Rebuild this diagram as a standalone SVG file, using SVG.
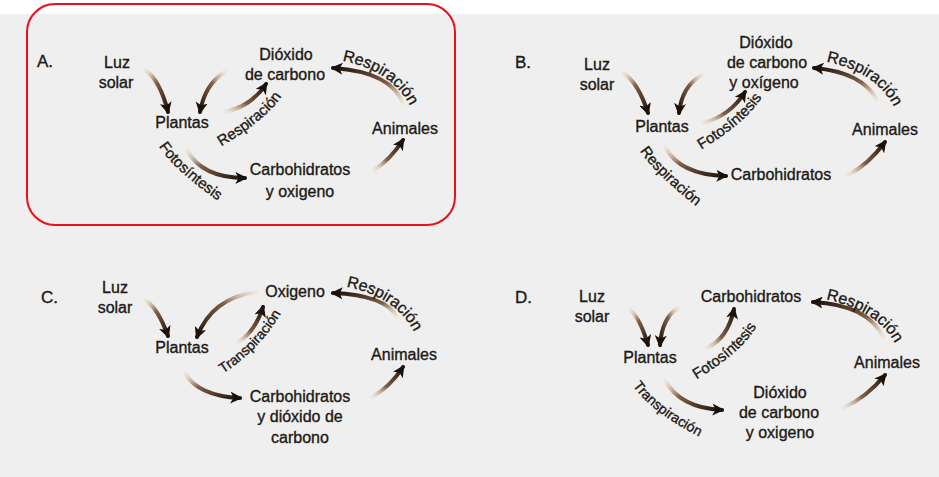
<svg xmlns="http://www.w3.org/2000/svg" width="939" height="477" viewBox="0 0 939 477">
<defs>
<style>
text{font-family:"Liberation Sans",Arial,sans-serif;font-size:16px;fill:#1d1915;stroke:#1d1915;stroke-width:0.35}
.n text{text-anchor:middle}
.tag{font-size:17px}
.el{font-size:15px}
.el14{font-size:14px}
.el16{font-size:16px}
.c{fill:none;stroke-width:4;stroke-linecap:round;marker-end:url(#ah)}
.dr{stroke:url(#gDR)}
.dl{stroke:url(#gDL)}
.ur{stroke:url(#gUR)}
.ul{stroke:url(#gUL)}
</style>
<linearGradient id="gDR" x1="0" y1="0" x2="1" y2="1"><stop offset="0" stop-color="#e8c99a" stop-opacity=".2"/><stop offset=".4" stop-color="#6e4428" stop-opacity=".85"/><stop offset="1" stop-color="#1a110a"/></linearGradient>
<linearGradient id="gDL" x1="1" y1="0" x2="0" y2="1"><stop offset="0" stop-color="#e8c99a" stop-opacity=".2"/><stop offset=".4" stop-color="#6e4428" stop-opacity=".85"/><stop offset="1" stop-color="#1a110a"/></linearGradient>
<linearGradient id="gUR" x1="0" y1="1" x2="1" y2="0"><stop offset="0" stop-color="#e8c99a" stop-opacity=".2"/><stop offset=".4" stop-color="#6e4428" stop-opacity=".85"/><stop offset="1" stop-color="#1a110a"/></linearGradient>
<linearGradient id="gUL" x1="1" y1="1" x2="0" y2="0"><stop offset="0" stop-color="#e8c99a" stop-opacity=".2"/><stop offset=".4" stop-color="#6e4428" stop-opacity=".85"/><stop offset="1" stop-color="#1a110a"/></linearGradient>
<marker id="ah" viewBox="0 0 10 10" refX="8" refY="5" markerWidth="12" markerHeight="12" markerUnits="userSpaceOnUse" orient="auto"><path d="M0,0 L10,5 L0,10 L2.5,5z" fill="#1a110a"/></marker>
<path id="pA1" d="M340,60 Q394,71 411,108"/>
<path id="pA2" d="M219,148 Q269,118 283,94"/>
<path id="pA3" d="M157,143 Q170,167 221,203"/>
<path id="pB1" d="M824,61 Q878,72 895,109"/>
<path id="pB2" d="M699,151 Q749,121 763,95"/>
<path id="pB3" d="M637,146 Q650,170 701,210"/>
<path id="pC1" d="M344,286 Q398,297 415,334"/>
<path id="pC2" d="M216,378 Q262,350 285,306"/>
<path id="pD1" d="M824,299 Q878,310 896,345"/>
<path id="pD2" d="M694,381 Q744,351 758,324"/>
<path id="pD3" d="M629,379 Q645,410 706,440"/>
</defs>

<rect x="0" y="0" width="939" height="477" fill="#ffffff"/>
<rect x="0" y="14" width="939" height="463" fill="#efefef"/>
<rect x="27" y="4" width="428" height="221" rx="28" ry="28" fill="none" stroke="#e5121b" stroke-width="2"/>

<g id="panel-tags">
<text class="tag" x="37" y="67">A.</text>
<text class="tag" x="515" y="68">B.</text>
<text class="tag" x="41" y="303">C.</text>
<text class="tag" x="515" y="303">D.</text>
</g>

<g id="A-luz" class="n"><text x="117" y="68">Luz</text><text x="116" y="88">solar</text></g>
<g id="A-plantas" class="n"><text x="182" y="128">Plantas</text></g>
<g id="A-dioxido" class="n"><text x="286" y="60">Dióxido</text><text x="285" y="80">de carbono</text></g>
<g id="A-animales" class="n"><text x="405" y="134">Animales</text></g>
<g id="A-carbo" class="n"><text x="300" y="175">Carbohidratos</text><text x="300" y="197">y oxigeno</text></g>

<g id="B-luz" class="n"><text x="597" y="70">Luz</text><text x="597" y="90">solar</text></g>
<g id="B-plantas" class="n"><text x="662" y="132">Plantas</text></g>
<g id="B-dioxido" class="n"><text x="766" y="48">Dióxido</text><text x="767" y="68">de carbono</text><text x="764" y="88">y oxígeno</text></g>
<g id="B-animales" class="n"><text x="885" y="135">Animales</text></g>
<g id="B-carbo" class="n"><text x="781" y="180">Carbohidratos</text></g>

<g id="C-luz" class="n"><text x="115" y="293">Luz</text><text x="115" y="313">solar</text></g>
<g id="C-plantas" class="n"><text x="182" y="353">Plantas</text></g>
<g id="C-oxigeno" class="n"><text x="295" y="297">Oxigeno</text></g>
<g id="C-animales" class="n"><text x="404" y="360">Animales</text></g>
<g id="C-carbo" class="n"><text x="300" y="402">Carbohidratos</text><text x="300" y="422">y dióxido de</text><text x="300" y="443">carbono</text></g>

<g id="D-luz" class="n"><text x="592" y="302">Luz</text><text x="592" y="322">solar</text></g>
<g id="D-plantas" class="n"><text x="650" y="363">Plantas</text></g>
<g id="D-carbo" class="n"><text x="751" y="302">Carbohidratos</text></g>
<g id="D-animales" class="n"><text x="887" y="368">Animales</text></g>
<g id="D-dioxido" class="n"><text x="780" y="398">Dióxido</text><text x="779" y="418">de carbono</text><text x="780" y="438">y oxigeno</text></g>

<g id="connectors">
<path class="c dr" d="M145,70 Q160,80 168,112"/>
<path class="c dl" d="M225,72 Q205,84 200,112"/>
<path class="c ur" d="M225,112 Q252,106 266,84"/>
<path class="c ul" d="M403,104 Q392,72 333,68"/>
<path class="c dr" d="M187,150 Q202,178 245,178"/>
<path class="c ur" d="M374,170 Q390,160 403,140"/>
<path class="c dr" d="M623,73 Q638,82 648,113"/>
<path class="c dl" d="M702,75 Q682,86 679,113"/>
<path class="c ur" d="M703,123 Q730,116 745,92"/>
<path class="c ul" d="M877,100 Q862,72 814,68"/>
<path class="c dr" d="M665,147 Q680,175 726,176"/>
<path class="c ur" d="M848,175 Q868,165 885,142"/>
<path class="c dr" d="M145,300 Q158,308 168,336"/>
<path class="c dl" d="M256,292 Q212,298 197,337"/>
<path class="c ur" d="M238,342 Q255,332 263,307"/>
<path class="c ul" d="M397,317 Q385,295 333,293"/>
<path class="c dr" d="M185,373 Q198,396 240,398"/>
<path class="c ur" d="M372,397 Q390,387 403,367"/>
<path class="c dr" d="M630,310 Q640,318 648,345"/>
<path class="c dl" d="M678,308 Q662,318 660,345"/>
<path class="c ur" d="M707,348 Q728,338 734,309"/>
<path class="c ul" d="M883,337 Q868,305 813,302"/>
<path class="c dr" d="M665,380 Q680,408 722,410"/>
<path class="c ur" d="M843,408 Q866,398 885,375"/>
</g>

<g id="edge-labels">
<text class="el16"><textPath href="#pA1" startOffset="50%" text-anchor="middle">Respiración</textPath></text>
<text class="el"><textPath href="#pA2" startOffset="50%" text-anchor="middle">Respiración</textPath></text>
<text class="el"><textPath href="#pA3" startOffset="50%" text-anchor="middle">Fotosíntesis</textPath></text>
<text class="el16"><textPath href="#pB1" startOffset="50%" text-anchor="middle">Respiración</textPath></text>
<text class="el"><textPath href="#pB2" startOffset="50%" text-anchor="middle">Fotosíntesis</textPath></text>
<text class="el"><textPath href="#pB3" startOffset="50%" text-anchor="middle">Respiración</textPath></text>
<text class="el16"><textPath href="#pC1" startOffset="50%" text-anchor="middle">Respiración</textPath></text>
<text class="el14"><textPath href="#pC2" startOffset="50%" text-anchor="middle">Transpiración</textPath></text>
<text class="el16"><textPath href="#pD1" startOffset="50%" text-anchor="middle">Respiración</textPath></text>
<text class="el"><textPath href="#pD2" startOffset="50%" text-anchor="middle">Fotosíntesis</textPath></text>
<text class="el14"><textPath href="#pD3" startOffset="50%" text-anchor="middle">Transpiración</textPath></text>
</g>
</svg>
